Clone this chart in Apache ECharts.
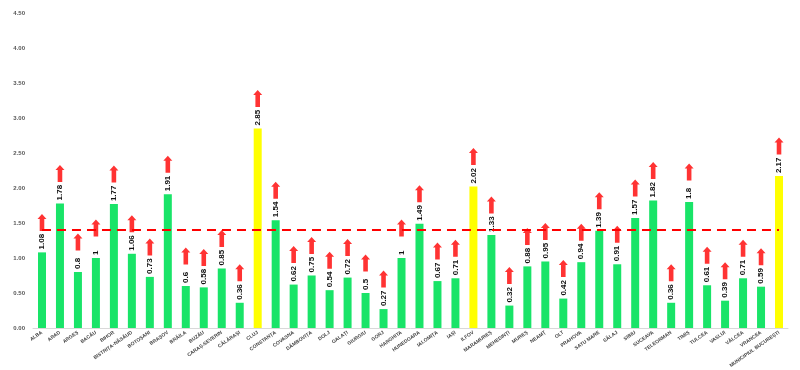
<!DOCTYPE html>
<html>
<head>
<meta charset="utf-8">
<script src="https://cdn.jsdelivr.net/npm/echarts@6/dist/echarts.min.js"></script>
<style>html,body{margin:0;padding:0;background:#fff}#c{width:800px;height:370px}</style>
</head>
<body>
<div id="c"></div>
<script>
const categories = ['ALBA','ARAD','ARGEȘ','BACĂU','BIHOR','BISTRIȚA-NĂSĂUD','BOTOȘANI','BRAȘOV','BRĂILA','BUZĂU','CARAȘ-SEVERIN','CĂLĂRAȘI','CLUJ','CONSTANȚA','COVASNA','DÂMBOVIȚA','DOLJ','GALAȚI','GIURGIU','GORJ','HARGHITA','HUNEDOARA','IALOMIȚA','IAȘI','ILFOV','MARAMUREȘ','MEHEDINȚI','MUREȘ','NEAMȚ','OLT','PRAHOVA','SATU MARE','SĂLAJ','SIBIU','SUCEAVA','TELEORMAN','TIMIȘ','TULCEA','VASLUI','VÂLCEA','VRANCEA','MUNICIPIUL BUCUREȘTI'];
const values = [1.08,1.78,0.8,1,1.77,1.06,0.73,1.91,0.6,0.58,0.85,0.36,2.85,1.54,0.62,0.75,0.54,0.72,0.5,0.27,1,1.49,0.67,0.71,2.02,1.33,0.32,0.88,0.95,0.42,0.94,1.39,0.91,1.57,1.82,0.36,1.8,0.61,0.39,0.71,0.59,2.17];
const highlighted = ['CLUJ','ILFOV','MUNICIPIUL BUCUREȘTI'];
const threshold = 1.4;
const yTicks = {min: 0, max: 4.5, interval: 0.5};

const GREEN = '#19e468', YELLOW = '#ffff00', RED = '#ff0000';
const font = "'Liberation Sans Narrow', 'Liberation Sans', Arial, sans-serif";
const arrowPath = 'path://M4.5,0 L9,5 L6.8,5 L6.8,17 L2.2,17 L2.2,5 L0,5 Z';

const chart = echarts.init(document.getElementById('c'), null, {renderer: 'canvas'});
chart.setOption({
  animation: false,
  grid: {left: 33, right: 12, top: 13, bottom: 41},
  xAxis: {
    type: 'category',
    data: categories,
    axisLine: {lineStyle: {color: '#d9d9d9', width: 1}},
    axisTick: {show: false},
    axisLabel: {interval: 0, rotate: 35, fontSize: 5, color: '#444', fontFamily: font, fontWeight: 'bold', margin: 4}
  },
  yAxis: {
    type: 'value',
    min: yTicks.min, max: yTicks.max, interval: yTicks.interval,
    axisLine: {show: false},
    axisTick: {show: false},
    splitLine: {show: false},
    axisLabel: {fontSize: 6, color: '#555', fontFamily: font, fontWeight: 'bold', margin: 8, formatter: v => v.toFixed(2)}
  },
  series: [
    {
      type: 'bar',
      barWidth: 8,
      data: values.map((v, i) => ({value: v, itemStyle: {color: highlighted.includes(categories[i]) ? YELLOW : GREEN}})),
      label: {
        show: true, position: 'top', rotate: 90, align: 'left', verticalAlign: 'middle', distance: 3,
        fontSize: 8, fontWeight: 'bold', color: '#111', fontFamily: font,
        formatter: p => String(p.value)
      },
      markLine: {
        silent: true, symbol: ['none', 'none'],
        lineStyle: {color: RED, type: [9, 6], width: 2},
        label: {show: false},
        data: [[{coord: [categories[0], threshold]}, {coord: [categories[categories.length - 1], threshold]}]],
        z: 10
      }
    },
    {
      type: 'scatter',
      data: values,
      symbol: arrowPath,
      symbolSize: [9, 17],
      symbolOffset: [0, -30],
      itemStyle: {color: RED},
      z: 5
    }
  ]
});
</script>
</body>
</html>
